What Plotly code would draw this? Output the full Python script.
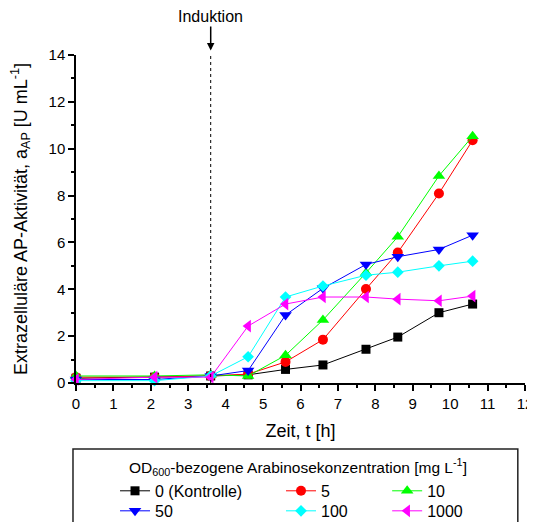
import plotly.graph_objects as go

# ---- data ----
zeit = [0, 2.1, 3.6, 4.6, 5.6, 6.6, 7.75, 8.6, 9.7, 10.6]
a_0 = [0.2, 0.25, 0.3, 0.35, 0.58, 0.77, 1.44, 1.96, 3.0, 3.37]
a_5 = [0.25, 0.25, 0.3, 0.38, 0.9, 1.85, 4.01, 5.57, 8.09, 10.36]
a_10 = [0.3, 0.3, 0.35, 0.3, 1.18, 2.69, 4.7, 6.24, 8.84, 10.53]
a_50 = [0.15, 0.15, 0.3, 0.53, 2.9, 4.04, 5.06, 5.39, 5.7, 6.31]
a_100 = [0.1, 0.1, 0.3, 1.12, 3.67, 4.14, 4.6, 4.73, 5.0, 5.2]
a_1000 = [0.15, 0.25, 0.25, 2.43, 3.37, 3.67, 3.67, 3.58, 3.51, 3.71]
serien_namen = ["0 (Kontrolle)", "5", "10", "50", "100", "1000"]
induktion_t = 3.6

FONT = "Liberation Sans, Arial, sans-serif"

series = [
    (serien_namen[0], a_0, "#000000", "square", 9, "legend", 0.0869, -0.329),
    (serien_namen[1], a_5, "#FF0000", "circle", 10, "legend2", 0.4566, -0.329),
    (serien_namen[2], a_10, "#00FF00", "triangle-up", 11, "legend3", 0.693, -0.329),
    (serien_namen[3], a_50, "#0000FF", "triangle-down", 11, "legend4", 0.0869, -0.390),
    (serien_namen[4], a_100, "#00FFFF", "diamond", 9, "legend5", 0.4566, -0.390),
    (serien_namen[5], a_1000, "#FF00FF", "triangle-left", 11, "legend6", 0.693, -0.390),
]

fig = go.Figure()
legend_layouts = {}
for name, vals, col, sym, sz, lg, lx, ly in series:
    fig.add_trace(go.Scatter(
        x=zeit, y=vals, name=name, mode="lines+markers",
        line=dict(color=col, width=1),
        marker=dict(symbol=sym, size=sz, color=col, line=dict(width=0)),
        cliponaxis=False, legend=lg,
    ))
    legend_layouts[lg] = dict(
        x=lx, y=ly, xanchor="left", yanchor="middle",
        bgcolor="rgba(0,0,0,0)", borderwidth=0,
        font=dict(family=FONT, size=16, color="#000"),
    )

fig.update_layout(**legend_layouts)

fig.add_shape(type="line", xref="x", yref="y", x0=induktion_t, x1=induktion_t,
              y0=0, y1=14, line=dict(color="#000", width=1, dash="dot"))
fig.add_annotation(x=induktion_t, y=1.014, xref="x", yref="paper", text="Induktion",
                   showarrow=True, ax=0, ay=-34, arrowhead=2, arrowsize=1,
                   arrowwidth=1.5, arrowcolor="#000",
                   font=dict(family=FONT, size=16, color="#000"))

# legend frame and title
fig.add_shape(type="rect", xref="paper", yref="paper",
              x0=-0.0067, x1=0.984, y0=-0.201, y1=-0.46,
              line=dict(color="#222", width=1.5), fillcolor="rgba(0,0,0,0)")
fig.add_annotation(xref="paper", yref="paper", x=(298 - 76) / 449, y=(383 - 467) / 328,
                   xanchor="center", yanchor="middle", showarrow=False,
                   text="OD<sub>600</sub>-bezogene Arabinosekonzentration [mg L<sup>-1</sup>]",
                   font=dict(family=FONT, size=15.5, color="#000"))

axis_common = dict(
    showline=True, linecolor="#000", linewidth=1.5, mirror=False,
    ticks="outside", ticklen=6, tickwidth=1.5, tickcolor="#000",
    showgrid=False, zeroline=False,
    tickfont=dict(family=FONT, size=15, color="#000"),
    minor=dict(ticks="outside", ticklen=3, tickwidth=1.5, tickcolor="#000", showgrid=False),
)
fig.update_xaxes(range=[0, 12], dtick=1, tick0=0,
                 title=dict(text="Zeit, t [h]", font=dict(family=FONT, size=18, color="#000"), standoff=14),
                 **axis_common)
fig.update_yaxes(range=[0, 14], dtick=2, tick0=0,
                 title=dict(text="Extrazelluläre AP-Aktivität, a<sub>AP</sub> [U mL<sup>-1</sup>]",
                            font=dict(family=FONT, size=18, color="#000"), standoff=17),
                 **axis_common)
fig.update_xaxes(minor_dtick=0.5)
fig.update_yaxes(minor_dtick=1)

# page body has an 8px margin, so the figure is laid out shifted by that amount
fig.update_layout(
    width=527, height=514,
    margin=dict(l=68, r=10, t=47, b=139, autoexpand=False),
    plot_bgcolor="white", paper_bgcolor="white",
    showlegend=True,
    font=dict(family=FONT, color="#000"),
)

fig.write_html("out.html")
